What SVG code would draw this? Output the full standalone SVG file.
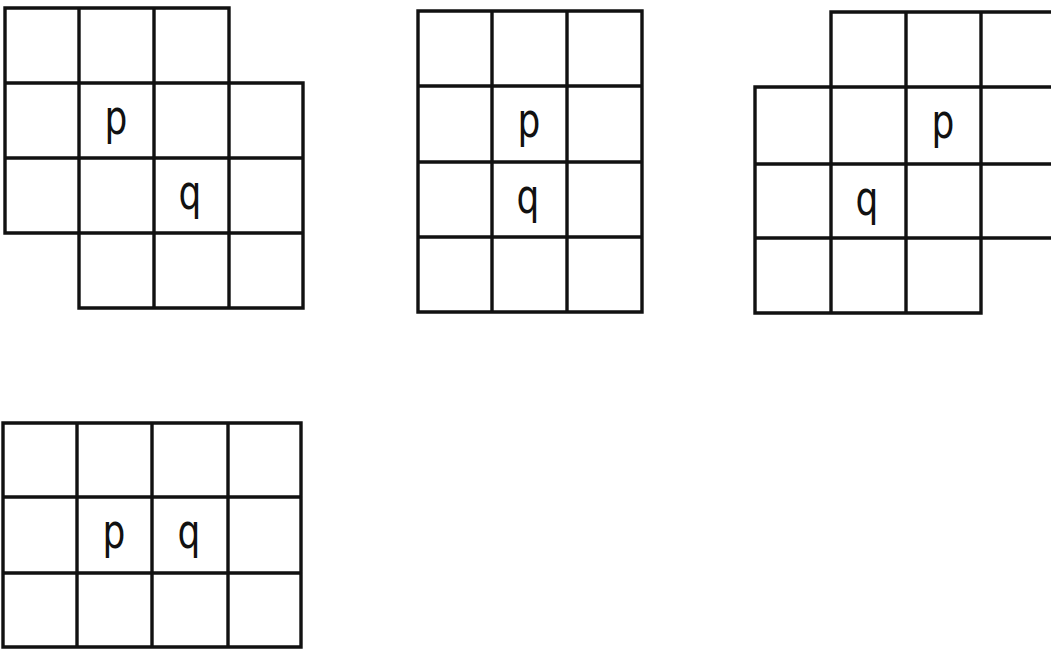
<svg xmlns="http://www.w3.org/2000/svg" width="1051" height="650" viewBox="0 0 1051 650">
<style>
.g{fill:none;stroke:#111;stroke-width:3.4;stroke-linecap:square;stroke-linejoin:miter}
.t{font-family:"DejaVu Sans",sans-serif;font-size:40px;fill:#111;text-anchor:middle}
</style>
<rect width="1051" height="650" fill="#fff"/>
<g id="grid1">
<path class="g" d="M5 8H229V83H303V308H79V233H5Z M5 83H229 M5 158H303 M79 233H303 M79 8V233 M154 8V308 M229 83V308"/>
<text class="t" transform="translate(116 134) scale(0.9 1.2)">p</text>
<text class="t" transform="translate(190 209) scale(0.9 1.2)">q</text>
</g>
<g id="grid2">
<path class="g" d="M418 11H642V312H418Z M418 86H642 M418 162H642 M418 237H642 M492 11V312 M567 11V312"/>
<text class="t" transform="translate(529 137) scale(0.9 1.2)">p</text>
<text class="t" transform="translate(528 213) scale(0.9 1.2)">q</text>
</g>
<g id="grid3">
<path class="g" d="M1060 12H831V87H755V313H981V238H1060 M831 87H1060 M755 164H1060 M755 238H981 M831 87V313 M906 12V313 M981 12V238"/>
<text class="t" transform="translate(943 138) scale(0.9 1.2)">p</text>
<text class="t" transform="translate(867 215) scale(0.9 1.2)">q</text>
</g>
<g id="grid4">
<path class="g" d="M3 423H301V647H3Z M3 497H301 M3 573H301 M77 423V647 M152 423V647 M228 423V647"/>
<text class="t" transform="translate(114 548) scale(0.9 1.2)">p</text>
<text class="t" transform="translate(189 548) scale(0.9 1.2)">q</text>
</g>
<g id="connectors"></g>
</svg>
